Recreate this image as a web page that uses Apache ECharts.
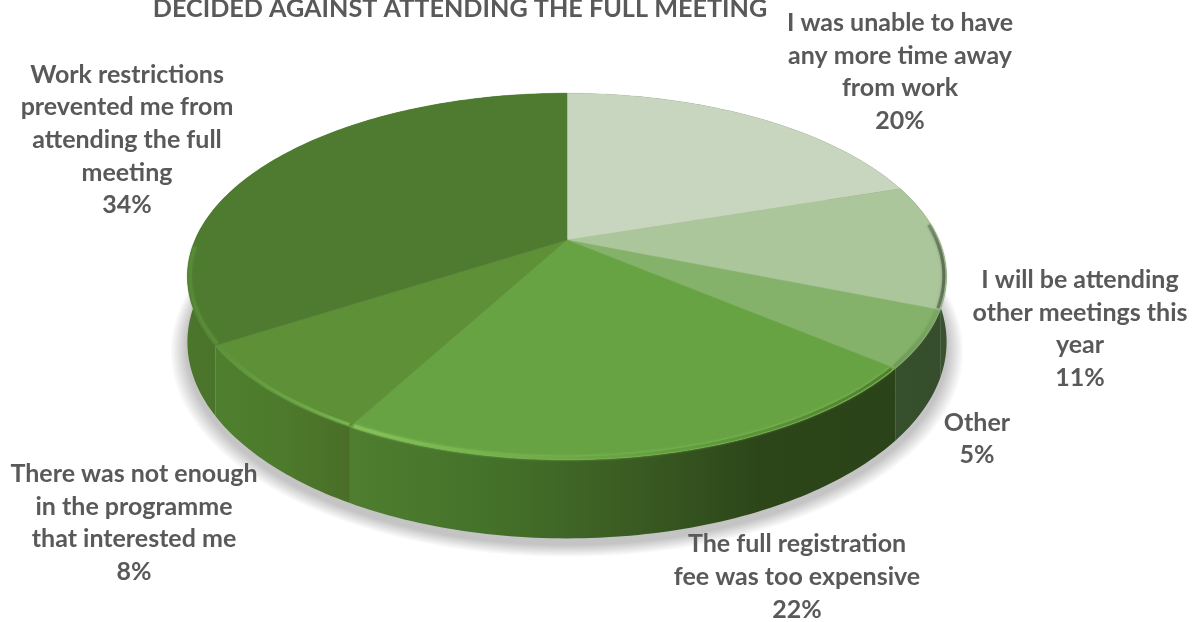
<!DOCTYPE html>
<html>
<head>
<meta charset="utf-8">
<title>Pie</title>
<script src="https://cdn.jsdelivr.net/npm/echarts@6/dist/echarts.min.js"></script>
<style>
  html, body { margin: 0; padding: 0; background: #fff; }
  #chart { width: 1196px; height: 622px; }
</style>
</head>
<body>
<div id="chart"></div>
<script>
const chartTitle = "DECIDED AGAINST ATTENDING THE FULL MEETING";
const sliceNames = [
  "I was unable to have\nany more time away\nfrom work",
  "I will be attending\nother meetings this\nyear",
  "Other",
  "The full registration\nfee was too expensive",
  "There was not enough\nin the programme\nthat interested me",
  "Work restrictions\nprevented me from\nattending the full\nmeeting",
];
const sliceValues = [20, 11, 5, 22, 8, 34];

// styles per slice, same order as above
const faceColors = ["#c9d6bf", "#abc69b", "#85b26a", "#67a343", "#5e9038", "#4f7b30"];
const rimStops = [
  ["#3c5330", "#3c5330"],
  ["#3c5330", "#38502e", "#3a5230"],
  ["#354f2c", "#374d2d"],
  ["#4f7e2f", "#45722a", "#3b5d23", "#2c4619", "#2a4318"],
  ["#4e7f2e", "#4d7a2c", "#4a6e28"],
  ["#4a752a", "#43692a"],
];
const bevelStops = [
  ["#b9c8ae", "#8a9a80"],
  ["#7c9470", "#5a6a52"],
  ["#6e9a58", "#7da666"],
  ["#86c25a", "#6fae48", "#5f9a3c", "#4f8030"],
  ["#5c9238", "#78b44e"],
  ["#578a36", "#5a8e38"],
];
const labelCenters = [[900, 72], [1080, 329], [977, 439], [797, 577], [134, 523], [127, 140]];

// projection of the tilted disc, fitted to the picture
const apexX = 567;
const apexY = 240;
const spreadX = 372;
const spreadY = 176;
const tilt = 0.199;
const rimDepth = 63;
// only the front of the disc shows a bevel
const bevelFrom = 0.235;
const bevelTo = 0.745;
// soft shadow under the disc, built from stacked see-through layers
const shadowLayers = 12;
const shadowSpread = 0.042;
const shadowDrop = 6;
const shadowAlpha = 0.02;

const total = sliceValues.reduce((a, b) => a + b, 0);
const startShares = sliceValues.map((v, i) =>
  sliceValues.slice(0, i).reduce((a, b) => a + b, 0) / total
);

function project(share, radius, drop) {
  const angle = share * Math.PI * 2;
  const u = Math.sin(angle) * radius;
  const v = -Math.cos(angle) * radius;
  const w = 1 - tilt * v;
  return [
    apexX + (spreadX * u) / w,
    apexY + (spreadY * v) / w + (drop ? rimDepth / w : 0),
  ];
}

function arcPoints(from, to, radius, drop) {
  const steps = Math.max(2, Math.ceil((to - from) * 360));
  const pts = [];
  for (let i = 0; i <= steps; i++) {
    pts.push(project(from + ((to - from) * i) / steps, radius, drop));
  }
  return pts;
}

function gradient(stops) {
  return new echarts.graphic.LinearGradient(
    0, 0, 1, 0,
    stops.map((color, i) => ({ offset: i / (stops.length - 1), color }))
  );
}

function sliceRange(index) {
  const from = startShares[index];
  return [from, from + sliceValues[index] / total];
}

function renderShadow() {
  const children = [];
  for (let k = 0; k < shadowLayers; k++) {
    const radius = 1 + (shadowSpread * (shadowLayers - k)) / shadowLayers;
    children.push({
      type: "polygon",
      shape: {
        points: arcPoints(0, 1, radius, true).map((p) => [p[0], p[1] + shadowDrop]),
      },
      style: { fill: "rgba(0, 0, 0, " + shadowAlpha + ")" },
    });
  }
  return { type: "group", children };
}

function renderRim(params) {
  const [from, to] = sliceRange(params.dataIndex);
  const top = arcPoints(from, to, 1, false);
  const bottom = arcPoints(from, to, 1, true).reverse();
  return {
    type: "polygon",
    shape: { points: top.concat(bottom) },
    style: { fill: gradient(rimStops[params.dataIndex]) },
  };
}

function renderFace(params) {
  const i = params.dataIndex;
  const [from, to] = sliceRange(i);
  const children = [
    {
      type: "polygon",
      shape: { points: [[apexX, apexY]].concat(arcPoints(from, to, 1, false)) },
      style: { fill: faceColors[i], stroke: faceColors[i], lineWidth: 0.5 },
    },
  ];
  const bevelStart = Math.max(from, bevelFrom);
  const bevelEnd = Math.min(to, bevelTo);
  if (bevelEnd > bevelStart) {
    children.push({
      type: "polyline",
      shape: { points: arcPoints(bevelStart + 0.001, bevelEnd - 0.001, 0.993, false) },
      style: {
        fill: null,
        stroke: gradient(bevelStops[i]),
        lineWidth: 3,
        shadowBlur: 3,
        shadowColor: bevelStops[i][0],
      },
    });
  }
  return { type: "group", children };
}

function renderLabel(params, api) {
  const i = params.dataIndex;
  return {
    type: "text",
    style: {
      x: labelCenters[i][0],
      y: labelCenters[i][1],
      text: sliceNames[i] + "\n" + api.value(0) + "%",
      align: "center",
      verticalAlign: "middle",
      font: 'bold 25px Lato, "Open Sans", sans-serif',
      lineHeight: 32.7,
      fill: "#595959",
    },
  };
}

const chart = echarts.init(document.getElementById("chart"));
const sliceData = sliceValues.map((v) => [v]);

chart.setOption({
  animation: false,
  backgroundColor: "#fff",
  tooltip: { show: false },
  title: {
    text: chartTitle,
    left: 455,
    top: -9,
    textAlign: "center",
    textStyle: {
      fontFamily: "Lato",
      fontWeight: "bold",
      fontSize: 25.2,
      color: "#595959",
    },
  },
  series: [
    { type: "custom", coordinateSystem: "none", z: 1, data: [[total]], renderItem: renderShadow, silent: true },
    { type: "custom", coordinateSystem: "none", z: 2, data: sliceData, renderItem: renderRim, silent: true },
    { type: "custom", coordinateSystem: "none", z: 3, data: sliceData, renderItem: renderFace, silent: true },
    { type: "custom", coordinateSystem: "none", z: 4, data: sliceData, renderItem: renderLabel, silent: true },
  ],
});
</script>
</body>
</html>
